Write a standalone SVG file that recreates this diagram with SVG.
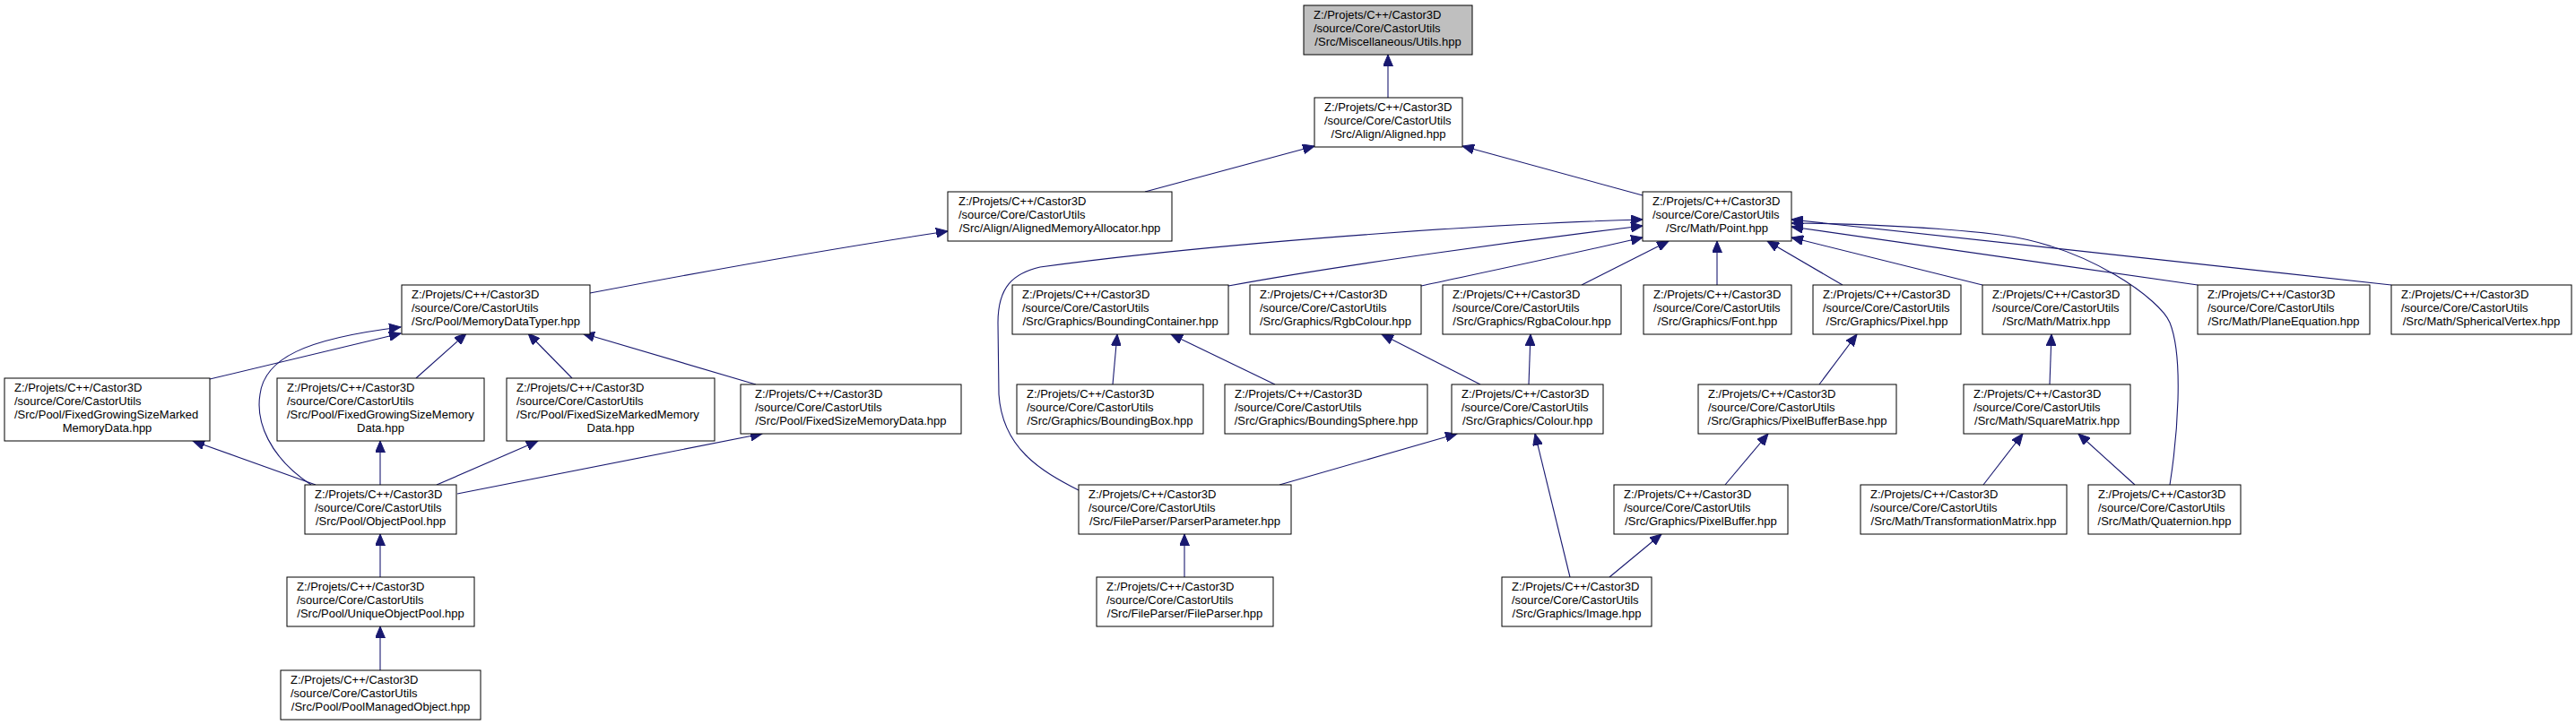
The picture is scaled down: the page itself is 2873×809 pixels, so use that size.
<svg xmlns="http://www.w3.org/2000/svg" width="2873" height="809" viewBox="0 0 2873 809">
<defs>
<style>
.n rect{fill:#fff;stroke:#000;stroke-width:1}
.n.g rect{fill:#bfbfbf}
.n text{font-family:"Liberation Sans",Arial,sans-serif;font-size:13px;fill:#000}
.n text.c{text-anchor:middle}
#edges path{fill:none;stroke:#191970;stroke-width:1.1;marker-end:url(#a)}
</style>
<marker id="a" markerUnits="userSpaceOnUse" markerWidth="14" markerHeight="11" viewBox="0 0 14 11" refX="13" refY="5.5" orient="auto"><path d="M0,0 L13,5.5 L0,11 z" fill="#191970" stroke="#191970" stroke-width="1"/></marker>
</defs>
<rect width="2873" height="809" fill="#fff"/>
<g id="edges">
<path d="M1548,109 L1548,61"/>
<path d="M1277,214 L1466,163"/>
<path d="M1832,218 L1631,163"/>
<path d="M658,327 C800,300 950,274 1057,258"/>
<path d="M234,423 L447,372"/>
<path d="M464,422 L520,372"/>
<path d="M638,422 L589,372"/>
<path d="M843,429 L650,372"/>
<path d="M347,541 C300,510 285,470 290,440 C295,400 340,378 447,365"/>
<path d="M352,541 L215,492"/>
<path d="M424,541 L424,492"/>
<path d="M487,541 L600,492"/>
<path d="M510,551 L850,484"/>
<path d="M424,644 L424,596"/>
<path d="M424,748 L424,699"/>
<path d="M1370,319 C1500,295 1700,268 1832,252"/>
<path d="M1585,319 C1650,305 1750,284 1832,265"/>
<path d="M1764,318 L1861,269"/>
<path d="M1915,318 L1915,269"/>
<path d="M2055,318 L1971,269"/>
<path d="M2211,318 L1998,265"/>
<path d="M2451,318 L1998,253"/>
<path d="M2667,318 L1998,245"/>
<path d="M1203,547 C1160,525 1118,500 1114,440 L1113,360 C1113,320 1130,305 1160,298 C1350,272 1650,250 1832,245"/>
<path d="M2420,541 C2428,490 2436,400 2420,360 C2410,335 2330,275 2230,262 C2160,253 2050,249 1998,249"/>
<path d="M1241,429 L1246,373"/>
<path d="M1422,429 L1306,373"/>
<path d="M1651,429 L1541,373"/>
<path d="M1705,429 L1707,373"/>
<path d="M1427,541 L1625,484"/>
<path d="M1751,644 L1712,484"/>
<path d="M2029,429 L2071,373"/>
<path d="M1924,541 L1972,484"/>
<path d="M1795,644 L1853,596"/>
<path d="M2286,429 L2288,373"/>
<path d="M2212,541 L2256,484"/>
<path d="M2381,541 L2318,484"/>
<path d="M1321,644 L1321,596"/>
</g>
<g id="utils" class="n g"><rect x="1454" y="6" width="188" height="55"/><text x="1465" y="21">Z:/Projets/C++/Castor3D</text><text x="1465" y="36">/source/Core/CastorUtils</text><text class="c" x="1548" y="51">/Src/Miscellaneous/Utils.hpp</text></g>
<g id="aligned" class="n"><rect x="1466" y="109" width="165" height="55"/><text x="1477" y="124">Z:/Projets/C++/Castor3D</text><text x="1477" y="139">/source/Core/CastorUtils</text><text class="c" x="1548.5" y="154">/Src/Align/Aligned.hpp</text></g>
<g id="alignedmemoryallocator" class="n"><rect x="1057" y="214" width="250" height="55"/><text x="1069" y="229">Z:/Projets/C++/Castor3D</text><text x="1069" y="244">/source/Core/CastorUtils</text><text class="c" x="1182" y="259">/Src/Align/AlignedMemoryAllocator.hpp</text></g>
<g id="point" class="n"><rect x="1832" y="214" width="166" height="55"/><text x="1843" y="229">Z:/Projets/C++/Castor3D</text><text x="1843" y="244">/source/Core/CastorUtils</text><text class="c" x="1915" y="259">/Src/Math/Point.hpp</text></g>
<g id="memorydatatyper" class="n"><rect x="448" y="318" width="210" height="55"/><text x="459" y="333">Z:/Projets/C++/Castor3D</text><text x="459" y="348">/source/Core/CastorUtils</text><text class="c" x="553" y="363">/Src/Pool/MemoryDataTyper.hpp</text></g>
<g id="boundingcontainer" class="n"><rect x="1129" y="318" width="241" height="55"/><text x="1140" y="333">Z:/Projets/C++/Castor3D</text><text x="1140" y="348">/source/Core/CastorUtils</text><text class="c" x="1249.5" y="363">/Src/Graphics/BoundingContainer.hpp</text></g>
<g id="rgbcolour" class="n"><rect x="1394" y="318" width="191" height="55"/><text x="1405" y="333">Z:/Projets/C++/Castor3D</text><text x="1405" y="348">/source/Core/CastorUtils</text><text class="c" x="1489.5" y="363">/Src/Graphics/RgbColour.hpp</text></g>
<g id="rgbacolour" class="n"><rect x="1609" y="318" width="199" height="55"/><text x="1620" y="333">Z:/Projets/C++/Castor3D</text><text x="1620" y="348">/source/Core/CastorUtils</text><text class="c" x="1708.5" y="363">/Src/Graphics/RgbaColour.hpp</text></g>
<g id="font" class="n"><rect x="1833" y="318" width="165" height="55"/><text x="1844" y="333">Z:/Projets/C++/Castor3D</text><text x="1844" y="348">/source/Core/CastorUtils</text><text class="c" x="1915.5" y="363">/Src/Graphics/Font.hpp</text></g>
<g id="pixel" class="n"><rect x="2022" y="318" width="165" height="55"/><text x="2033" y="333">Z:/Projets/C++/Castor3D</text><text x="2033" y="348">/source/Core/CastorUtils</text><text class="c" x="2104.5" y="363">/Src/Graphics/Pixel.hpp</text></g>
<g id="matrix" class="n"><rect x="2211" y="318" width="165" height="55"/><text x="2222" y="333">Z:/Projets/C++/Castor3D</text><text x="2222" y="348">/source/Core/CastorUtils</text><text class="c" x="2293.5" y="363">/Src/Math/Matrix.hpp</text></g>
<g id="planeequation" class="n"><rect x="2451" y="318" width="192" height="55"/><text x="2462" y="333">Z:/Projets/C++/Castor3D</text><text x="2462" y="348">/source/Core/CastorUtils</text><text class="c" x="2547" y="363">/Src/Math/PlaneEquation.hpp</text></g>
<g id="sphericalvertex" class="n"><rect x="2667" y="318" width="201" height="55"/><text x="2678" y="333">Z:/Projets/C++/Castor3D</text><text x="2678" y="348">/source/Core/CastorUtils</text><text class="c" x="2767.5" y="363">/Src/Math/SphericalVertex.hpp</text></g>
<g id="fixedgrowingsizemarkedmemorydata" class="n"><rect x="5" y="422" width="229" height="70"/><text x="16" y="437">Z:/Projets/C++/Castor3D</text><text x="16" y="452">/source/Core/CastorUtils</text><text x="16" y="467">/Src/Pool/FixedGrowingSizeMarked</text><text class="c" x="119.5" y="482">MemoryData.hpp</text></g>
<g id="fixedgrowingsizememorydata" class="n"><rect x="309" y="422" width="231" height="70"/><text x="320" y="437">Z:/Projets/C++/Castor3D</text><text x="320" y="452">/source/Core/CastorUtils</text><text x="320" y="467">/Src/Pool/FixedGrowingSizeMemory</text><text class="c" x="424.5" y="482">Data.hpp</text></g>
<g id="fixedsizemarkedmemorydata" class="n"><rect x="565" y="422" width="232" height="70"/><text x="576" y="437">Z:/Projets/C++/Castor3D</text><text x="576" y="452">/source/Core/CastorUtils</text><text x="576" y="467">/Src/Pool/FixedSizeMarkedMemory</text><text class="c" x="681" y="482">Data.hpp</text></g>
<g id="fixedsizememorydata" class="n"><rect x="826" y="429" width="246" height="55"/><text x="842" y="444">Z:/Projets/C++/Castor3D</text><text x="842" y="459">/source/Core/CastorUtils</text><text class="c" x="949" y="474">/Src/Pool/FixedSizeMemoryData.hpp</text></g>
<g id="boundingbox" class="n"><rect x="1134" y="429" width="208" height="55"/><text x="1145" y="444">Z:/Projets/C++/Castor3D</text><text x="1145" y="459">/source/Core/CastorUtils</text><text class="c" x="1238" y="474">/Src/Graphics/BoundingBox.hpp</text></g>
<g id="boundingsphere" class="n"><rect x="1366" y="429" width="226" height="55"/><text x="1377" y="444">Z:/Projets/C++/Castor3D</text><text x="1377" y="459">/source/Core/CastorUtils</text><text class="c" x="1479" y="474">/Src/Graphics/BoundingSphere.hpp</text></g>
<g id="colour" class="n"><rect x="1619" y="429" width="169" height="55"/><text x="1630" y="444">Z:/Projets/C++/Castor3D</text><text x="1630" y="459">/source/Core/CastorUtils</text><text class="c" x="1703.5" y="474">/Src/Graphics/Colour.hpp</text></g>
<g id="pixelbufferbase" class="n"><rect x="1894" y="429" width="221" height="55"/><text x="1905" y="444">Z:/Projets/C++/Castor3D</text><text x="1905" y="459">/source/Core/CastorUtils</text><text class="c" x="2004.5" y="474">/Src/Graphics/PixelBufferBase.hpp</text></g>
<g id="squarematrix" class="n"><rect x="2190" y="429" width="186" height="55"/><text x="2201" y="444">Z:/Projets/C++/Castor3D</text><text x="2201" y="459">/source/Core/CastorUtils</text><text class="c" x="2283" y="474">/Src/Math/SquareMatrix.hpp</text></g>
<g id="objectpool" class="n"><rect x="340" y="541" width="169" height="55"/><text x="351" y="556">Z:/Projets/C++/Castor3D</text><text x="351" y="571">/source/Core/CastorUtils</text><text class="c" x="424.5" y="586">/Src/Pool/ObjectPool.hpp</text></g>
<g id="parserparameter" class="n"><rect x="1203" y="541" width="237" height="55"/><text x="1214" y="556">Z:/Projets/C++/Castor3D</text><text x="1214" y="571">/source/Core/CastorUtils</text><text class="c" x="1321.5" y="586">/Src/FileParser/ParserParameter.hpp</text></g>
<g id="pixelbuffer" class="n"><rect x="1800" y="541" width="194" height="55"/><text x="1811" y="556">Z:/Projets/C++/Castor3D</text><text x="1811" y="571">/source/Core/CastorUtils</text><text class="c" x="1897" y="586">/Src/Graphics/PixelBuffer.hpp</text></g>
<g id="transformationmatrix" class="n"><rect x="2075" y="541" width="230" height="55"/><text x="2086" y="556">Z:/Projets/C++/Castor3D</text><text x="2086" y="571">/source/Core/CastorUtils</text><text class="c" x="2190" y="586">/Src/Math/TransformationMatrix.hpp</text></g>
<g id="quaternion" class="n"><rect x="2329" y="541" width="170" height="55"/><text x="2340" y="556">Z:/Projets/C++/Castor3D</text><text x="2340" y="571">/source/Core/CastorUtils</text><text class="c" x="2414" y="586">/Src/Math/Quaternion.hpp</text></g>
<g id="uniqueobjectpool" class="n"><rect x="320" y="644" width="209" height="55"/><text x="331" y="659">Z:/Projets/C++/Castor3D</text><text x="331" y="674">/source/Core/CastorUtils</text><text class="c" x="424.5" y="689">/Src/Pool/UniqueObjectPool.hpp</text></g>
<g id="fileparser" class="n"><rect x="1223" y="644" width="197" height="55"/><text x="1234" y="659">Z:/Projets/C++/Castor3D</text><text x="1234" y="674">/source/Core/CastorUtils</text><text class="c" x="1321.5" y="689">/Src/FileParser/FileParser.hpp</text></g>
<g id="image" class="n"><rect x="1675" y="644" width="167" height="55"/><text x="1686" y="659">Z:/Projets/C++/Castor3D</text><text x="1686" y="674">/source/Core/CastorUtils</text><text class="c" x="1758.5" y="689">/Src/Graphics/Image.hpp</text></g>
<g id="poolmanagedobject" class="n"><rect x="313" y="748" width="223" height="55"/><text x="324" y="763">Z:/Projets/C++/Castor3D</text><text x="324" y="778">/source/Core/CastorUtils</text><text class="c" x="424.5" y="793">/Src/Pool/PoolManagedObject.hpp</text></g>
</svg>
